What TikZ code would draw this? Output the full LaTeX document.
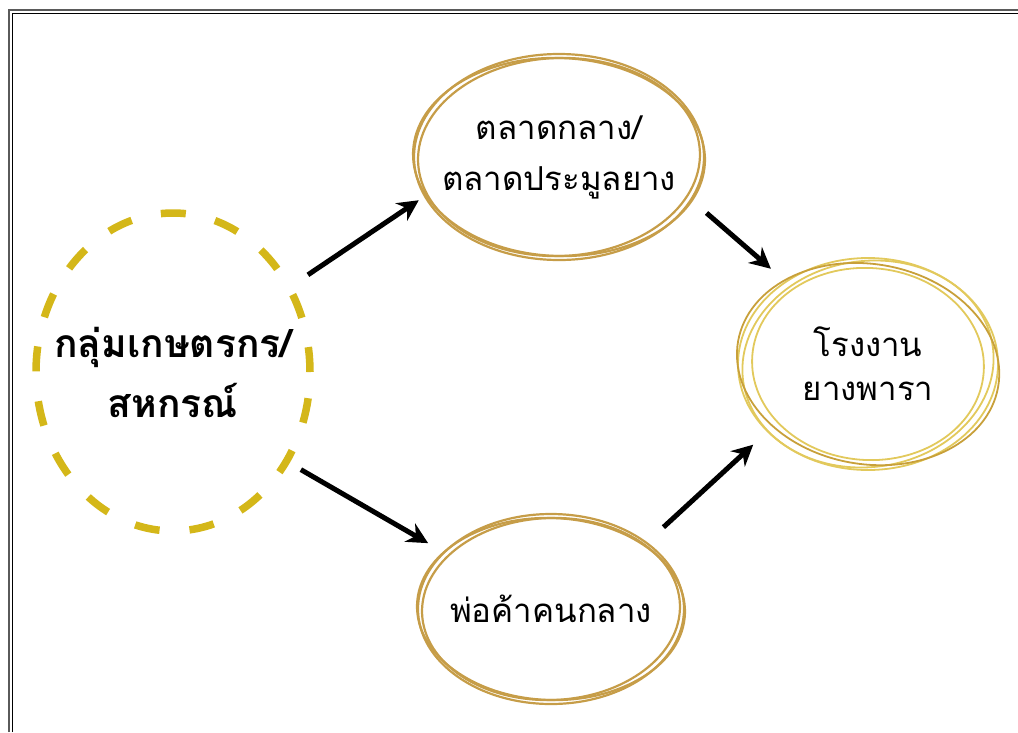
\documentclass[tikz,border=0pt]{standalone}
\usepackage{fontspec}
\usepackage{tikz}
\usetikzlibrary{shapes.geometric,arrows.meta,positioning,calc}
\newfontfamily\thaifont[Script=Thai]{Loma}
\definecolor{farmyellow}{RGB}{212,183,25}
\definecolor{ringtan}{RGB}{198,157,72}
\definecolor{ringgold}{RGB}{226,201,92}
\definecolor{ringdeep}{RGB}{200,160,58}
\definecolor{framegray}{RGB}{90,90,90}

\begin{document}
\begin{tikzpicture}[x=1pt, y=-1pt]
\tikzstyle{farmer} = [ellipse, draw=farmyellow, line width=7.5pt, dash pattern=on 25pt off 30pt, minimum width=274pt, minimum height=318pt, inner xsep=-45pt, inner ysep=0pt, align=center, font=\thaifont\bfseries\fontsize{39}{60}\selectfont]
\tikzstyle{oval} = [ellipse, inner sep=0pt, align=center, font=\thaifont\fontsize{33}{51}\selectfont]
\tikzstyle{ring} = [draw=ringtan, line width=2.2pt]
\tikzstyle{ringlight} = [draw=ringgold, line width=1.8pt]
\tikzstyle{arrow} = [line width=5pt,->,>={Stealth[length=21pt,width=21pt]}]

\useasboundingbox (0,0) rectangle (1018,732);
% frame
\draw [framegray, line width=1.6pt] (9,732) -- (9,10) -- (1018,10);
\draw [line width=1.2pt] (12.5,732) -- (12.5,13.5) -- (1018,13.5);

% nodes
\node (farm) [farmer] at (173,372) {กลุ่มเกษตรกร/\\สหกรณ์};
\node (market) [oval, minimum width=290pt, minimum height=206pt] at (559,157) {ตลาดกลาง/\\ตลาดประมูลยาง};
\node (trader) [oval, minimum width=266pt, minimum height=190pt] at (551,609) {พ่อค้าคนกลาง};
\node (factory) [oval, minimum width=262pt, minimum height=216pt, font=\thaifont\fontsize{33}{44}\selectfont] at (868,364) {โรงงาน\\ยางพารา};

% rings
\foreach \a/\rx/\ry in {0/145/103, 2/141/99, -2/146/99}
  \draw [ring, rotate around={\a:(market)}] (market) ellipse [x radius=\rx pt, y radius=\ry pt];
\foreach \a/\rx/\ry in {0/133/95, 2/129/91, -2/134/91}
  \draw [ring, rotate around={\a:(trader)}] (trader) ellipse [x radius=\rx pt, y radius=\ry pt];
\foreach \a/\rx/\ry in {0/130/106, 8/126/103, -4/116/96}
  \draw [ringlight, rotate around={\a:(factory)}] (factory) ellipse [x radius=\rx pt, y radius=\ry pt];
\draw [ringlight, draw=ringdeep, rotate around={-10:(factory)}] (factory) ellipse [x radius=132pt, y radius=100pt];

% arrows
\draw [arrow, shorten <=19pt, shorten >=-8pt] (farm.36) -- (market.198);
\draw [arrow, shorten <=13pt, shorten >=13pt] (farm.-38) -- (trader.152);
\draw [arrow, shorten <=6pt, shorten >=18pt] (market.-20) -- (factory.135);
\draw [arrow, shorten <=19pt, shorten >=18pt] (trader.35) -- (factory.214);
\end{tikzpicture}
\end{document}
